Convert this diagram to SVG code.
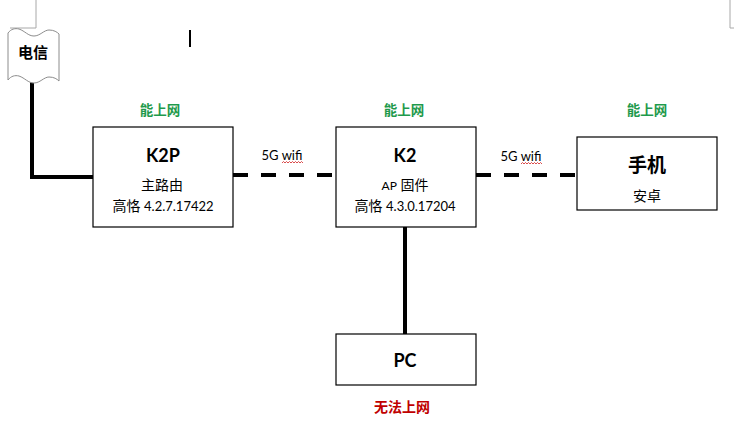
<svg xmlns="http://www.w3.org/2000/svg" width="737" height="428" viewBox="0 0 737 428">
<style>
.box{fill:#fff;stroke:#000;stroke-width:1.2}
.t{font-family:Lato,"Noto Sans CJK SC",sans-serif;text-anchor:middle;fill:#000}
.b{font-weight:bold}
.g{fill:#1f9a4c;font-weight:bold;font-size:13.5px;font-family:"Noto Sans CJK SC",sans-serif}
.r{fill:#c00000;font-weight:bold;font-size:14px;font-family:"Noto Sans CJK SC",sans-serif}
.solid{fill:none;stroke:#000;stroke-width:4}
.dash{fill:none;stroke:#000;stroke-width:4;stroke-dasharray:15 13}
.sq{fill:none;stroke:#d02020;stroke-width:0.8}
.mark{fill:none;stroke:#a8a8a8;stroke-width:1}
</style>
<rect width="737" height="428" fill="#fff"/>
<g id="page-marks">
<path class="mark" d="M36,0 V28 H10"/>
<path class="mark" d="M730,0 V28 H734"/>
<rect x="189" y="30" width="2" height="17" fill="#000"/>
</g>
<g id="connectors">
<path class="solid" d="M32,82 V177 H93"/>
<path class="dash" d="M233,175 H336"/>
<path class="dash" d="M476,175 H577"/>
<path class="solid" d="M405,227 V334"/>
<text class="t" x="282" y="160" font-size="13">5G wifi</text>
<path class="sq" d="M282,163 l1.5,-1.5 l1.5,1.5 l1.5,-1.5 l1.5,1.5 l1.5,-1.5 l1.5,1.5 l1.5,-1.5 l1.5,1.5 l1.5,-1.5 l1.5,1.5 l1.5,-1.5 l1.5,1.5 l1.5,-1.5 l1.5,1.5"/>
<text class="t" x="521" y="161" font-size="13">5G wifi</text>
<path class="sq" d="M521,164 l1.5,-1.5 l1.5,1.5 l1.5,-1.5 l1.5,1.5 l1.5,-1.5 l1.5,1.5 l1.5,-1.5 l1.5,1.5 l1.5,-1.5 l1.5,1.5 l1.5,-1.5 l1.5,1.5 l1.5,-1.5 l1.5,1.5"/>
</g>
<g id="telecom">
<path d="M8,33 C11,29 15,28 19,29 C25,31 28,36 34,36 C40,36 44,30 49,30 C54,30 57,32 59,34 V81 C57,79 54,77 49,77 C44,77 40,83 34,83 C28,83 25,78 19,76 C15,75 11,76 8,80 Z" fill="#fff" stroke="#8c8c8c" stroke-width="1"/>
<text class="t b" x="33" y="58" font-size="15" font-family="'Noto Sans CJK SC',sans-serif">电信</text>
</g>
<g id="k2p">
<text class="t g" x="160" y="115">能上网</text>
<rect class="box" x="93" y="127" width="140" height="100"/>
<text class="t b" x="163" y="162" font-size="18">K2P</text>
<text class="t" x="162" y="190" font-size="14">主路由</text>
<text class="t" x="163" y="211" font-size="14">高恪 <tspan font-size="13">4.2.7.17422</tspan></text>
</g>
<g id="k2">
<text class="t g" x="404" y="115">能上网</text>
<rect class="box" x="336" y="127" width="140" height="100"/>
<text class="t b" x="405" y="162" font-size="18">K2</text>
<text class="t" x="405" y="190" font-size="14"><tspan font-size="12">AP</tspan> 固件</text>
<text class="t" x="405" y="211" font-size="14">高恪 <tspan font-size="13">4.3.0.17204</tspan></text>
</g>
<g id="phone">
<text class="t g" x="647" y="115">能上网</text>
<rect class="box" x="577" y="137" width="140" height="73"/>
<text class="t b" x="647" y="172" font-size="19" font-family="'Noto Sans CJK SC',sans-serif">手机</text>
<text class="t" x="647" y="201" font-size="14">安卓</text>
</g>
<g id="pc">
<rect class="box" x="336" y="334" width="140" height="51"/>
<text class="t b" x="405" y="367" font-size="18">PC</text>
<text class="t r" x="402" y="412">无法上网</text>
</g>
</svg>
